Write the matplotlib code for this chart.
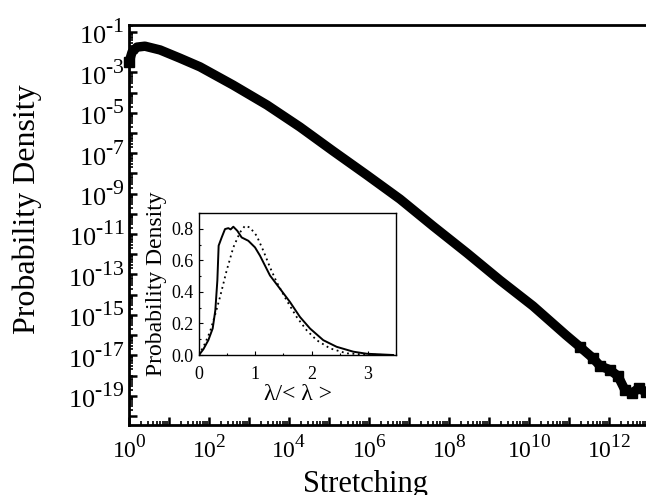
import matplotlib
matplotlib.use("Agg")
import matplotlib.pyplot as plt
import matplotlib._mathtext as _mt
import numpy as np
from matplotlib.ticker import FixedLocator, FixedFormatter, MultipleLocator

plt.rcParams['font.family'] = ['Liberation Serif', 'DejaVu Serif']
plt.rcParams['mathtext.fontset'] = 'custom'
plt.rcParams['mathtext.rm'] = 'Liberation Serif'
plt.rcParams['mathtext.it'] = 'Liberation Serif:italic'
# the exponents in the reference are big and raised high
_mt.SHRINK_FACTOR = 0.82
_mt.FontConstantsBase.sup1 = 0.95

# main panel: stretching distribution
stretching = [1.0, 1.19, 1.58, 2.5, 6.0, 18.8, 59.6, 398, 2820, 1.88e4, 1.26e5,
              8.9e5, 5.96e6, 3.98e7, 2.82e8, 1.88e9, 1.26e10, 8.4e10, 1.88e11,
              3.98e11, 5.96e11, 1.06e12, 1.68e12, 2.51e12, 3.76e12, 5.62e12, 8.4e12]
density = [3.2e-3, 1.0e-2, 1.8e-2, 2.0e-2, 1.3e-2, 5.1e-3, 1.9e-3, 2.4e-4, 2.45e-5,
           2.0e-6, 1.3e-7, 8.3e-9, 5.4e-10, 2.5e-11, 1.15e-12, 5.2e-14, 2.75e-15,
           1.0e-16, 2.6e-17, 7.2e-18, 3.0e-18, 1.9e-18, 9.3e-19, 1.9e-19, 1.35e-19,
           2.4e-19, 1.5e-19]

# inset: normalised lambda distribution (solid = data, dotted = fit)
lam_data = [0.0, 0.077, 0.166, 0.243, 0.29, 0.326, 0.349, 0.403, 0.462, 0.521, 0.562,
            0.61, 0.681, 0.758, 0.876, 0.995, 1.083, 1.261, 1.439, 1.616, 1.794,
            1.972, 2.208, 2.445, 2.741, 2.978, 3.45]
pdf_data = [0.0, 0.036, 0.094, 0.168, 0.283, 0.472, 0.693, 0.745, 0.798, 0.804, 0.796,
            0.813, 0.787, 0.745, 0.724, 0.682, 0.63, 0.504, 0.42, 0.336, 0.241,
            0.168, 0.094, 0.052, 0.021, 0.008, 0.0]
lam_fit = [0.0, 0.107, 0.195, 0.284, 0.373, 0.491, 0.61, 0.728, 0.817, 0.906, 1.024,
           1.143, 1.261, 1.38, 1.557, 1.735, 1.912, 2.09, 2.327, 2.623, 2.978, 3.45]
pdf_fit = [0.0, 0.073, 0.147, 0.252, 0.367, 0.535, 0.682, 0.777, 0.819, 0.808, 0.756,
           0.661, 0.556, 0.462, 0.346, 0.241, 0.157, 0.094, 0.042, 0.0105, 0.002, 0.0]

x_major = list(range(0, 14))
y_major = list(range(-20, 0))

W, H = 646, 495
fig = plt.figure(figsize=(W / 100, H / 100), dpi=100)
ax = fig.add_axes([129 / W, 70 / H, 520 / W, 400 / H])

# thick band for the dense part, blocky squares only in the noisy tail
ax.plot(stretching, density, color='black', lw=6.8, solid_joinstyle='round',
        solid_capstyle='butt', clip_on=False, zorder=3)
ax.plot(stretching[-9:], density[-9:], ls='none', color='black', marker='s', ms=7,
        clip_on=False, zorder=3)
ax.plot(stretching[:1], density[:1], ls='none', color='black', marker='s', ms=6.5,
        clip_on=False, zorder=3)
ax.set_xscale('log')
ax.set_yscale('log')
ax.set_xlim(1, 1e13)
ax.set_ylim(10 ** -20.45, 10 ** -0.65)

ax.xaxis.set_major_locator(FixedLocator([10.0 ** e for e in x_major]))
ax.xaxis.set_major_formatter(FixedFormatter(
    [r'$10^{%d}$' % e if e % 2 == 0 else '' for e in x_major]))
ax.xaxis.set_minor_locator(FixedLocator(
    [m * 10.0 ** e for e in x_major for m in range(2, 10)]))
ax.yaxis.set_major_locator(FixedLocator([10.0 ** e for e in y_major]))
ax.yaxis.set_major_formatter(FixedFormatter(
    [r'$10^{\text{-}%d}$' % -e if e % 2 != 0 else '' for e in y_major]))
ax.yaxis.set_minor_locator(FixedLocator(
    [m * 10.0 ** e for e in y_major for m in range(2, 10)]))

ax.tick_params(which='both', direction='in', top=False, right=False, width=1.8)
ax.tick_params(axis='x', labelsize=17, pad=7)
ax.tick_params(axis='y', labelsize=19, pad=3)
ax.tick_params(which='major', length=6)
ax.tick_params(which='minor', length=3, width=1.2)
for s in ax.spines.values():
    s.set_linewidth(2)

ax.set_ylabel('Probability Density', fontsize=23)
ax.yaxis.set_label_coords(-0.168, 0.54)
ax.set_xlabel('Stretching', fontsize=22, va='top')
ax.xaxis.set_label_coords(0.454, -0.1125)

# inset
ins = fig.add_axes([199 / W, 140 / H, 197 / W, 142 / H])
ins.plot(lam_data, pdf_data, color='black', lw=1.4)
ins.plot(lam_fit, pdf_fit, color='black', lw=1.3, ls=(0, (1, 2)))
ins.set_xlim(0, 3.5)
ins.set_ylim(0, 0.9)
ins.set_xticks([0, 1, 2, 3])
ins.set_yticks([0.0, 0.2, 0.4, 0.6, 0.8])
ins.set_yticklabels(['0.0', '0.2', '0.4', '0.6', '0.8'])
ins.xaxis.set_minor_locator(MultipleLocator(0.5))
ins.yaxis.set_minor_locator(MultipleLocator(0.1))
ins.tick_params(which='both', direction='in', top=False, right=False, labelsize=13,
                width=0.8)
ins.tick_params(which='major', length=3)
ins.tick_params(which='minor', length=1.5)
ins.tick_params(axis='x', pad=8)
ins.tick_params(axis='y', pad=4)
for s in ins.spines.values():
    s.set_linewidth(1)
ins.set_ylabel('Probability Density', fontsize=17)
ins.yaxis.set_label_coords(-0.162, 0.503)
ins.set_xlabel(r'λ/< λ >', fontsize=17, va='top')
ins.xaxis.set_label_coords(0.502, -0.204)

fig.savefig('out.png', dpi=100)
